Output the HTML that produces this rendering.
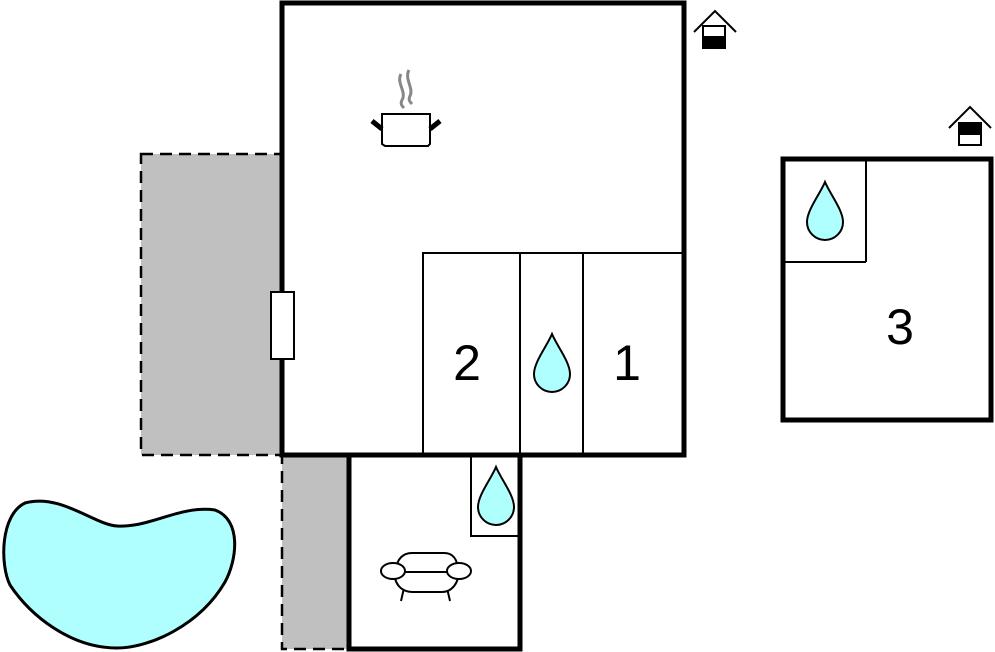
<!DOCTYPE html>
<html><head><style>html,body{margin:0;padding:0;background:#fff}svg{display:block}</style></head>
<body>
<svg width="995" height="652" viewBox="0 0 995 652" xmlns="http://www.w3.org/2000/svg">
<rect x="141" y="154" width="141" height="301" fill="#c0c0c0" stroke="#000" stroke-width="2.5" stroke-dasharray="12,7"/>
<rect x="282" y="455" width="67" height="194" fill="#c0c0c0" stroke="#000" stroke-width="2.5" stroke-dasharray="12,7"/>
<path d="M25,503 C60,493 95,525 117,526 C150,528 180,505 215,510 C242,520 237,560 225,582 C200,625 150,648 117,648 C70,648 30,615 10,585 C0,565 0,515 25,503 Z" fill="#b0ffff" stroke="#000" stroke-width="3"/>
<rect x="282" y="3" width="402" height="452" fill="#fff" stroke="#000" stroke-width="5"/>
<rect x="349" y="455" width="171" height="194" fill="#fff" stroke="#000" stroke-width="5"/>
<g stroke="#000" stroke-width="2" fill="none">
<rect x="423" y="253" width="261" height="202"/>
<line x1="520" y1="253" x2="520" y2="455"/>
<line x1="583" y1="253" x2="583" y2="455"/>
<rect x="471" y="455" width="49" height="81"/>
</g>
<rect x="271" y="292" width="23" height="67" fill="#fff" stroke="#000" stroke-width="2"/>
<rect x="783" y="159" width="208" height="261" fill="none" stroke="#000" stroke-width="5"/>
<line x1="783" y1="262" x2="866" y2="262" stroke="#000" stroke-width="2"/>
<line x1="866" y1="159" x2="866" y2="262" stroke="#000" stroke-width="2"/>
<g fill="#b0ffff" stroke="#000" stroke-width="2">
<path d="M825,182 C830,194 843,210 843,222 A18,18 0 0 1 807,222 C807,210 820,194 825,182 Z"/>
<path d="M552,334 C557,346 570,362 570,374 A18,18 0 0 1 534,374 C534,362 547,346 552,334 Z"/>
<path d="M496,467 C501,479 514,495 514,507 A18,18 0 0 1 478,507 C478,495 491,479 496,467 Z"/>
</g>
<g font-family="Liberation Sans, sans-serif" font-size="50" text-anchor="middle" fill="#000">
<text x="467" y="380">2</text>
<text x="627" y="380">1</text>
<text x="900" y="344">3</text>
</g>
<g stroke="#000" fill="none">
<path d="M382,114 L382,144 L385,146 L428,146 L430,144 L430,114 Z" fill="#fff" stroke-width="2"/>
<path d="M372,121 L382,129 M440,121 L430,129" stroke-width="5"/>
<path d="M401,74 C396,83 407,92 402,100 C400,104 402,106 404,108 M409,70 C404,79 414,88 410,96 C408,100 410,102 412,104" stroke="#888" stroke-width="3"/>
</g>
<g stroke="#000" stroke-width="2" fill="#fff">
<path d="M404,588 L401,601 M447,588 L450,601" fill="none"/>
<path d="M395,570 C393,582 400,592 413,592 L442,592 C452,592 460,582 458,570 Z"/>
<path d="M396,572 C396,558 404,553 412,553 L444,553 C452,553 458,558 458,572 Z"/>
<ellipse cx="393" cy="571" rx="12" ry="8"/>
<ellipse cx="459" cy="571" rx="12" ry="8"/>
</g>
<g stroke="#000" stroke-width="2" fill="none">
<path d="M694,32 L715,11 L736,32"/>
<rect x="703" y="26" width="22" height="22" fill="#fff"/>
<rect x="703" y="37" width="22" height="11" fill="#000"/>
<path d="M949,128 L970,107 L991,128"/>
<rect x="959" y="123" width="22" height="22" fill="#fff"/>
<rect x="959" y="123" width="22" height="11" fill="#000"/>
</g>
</svg>
</body></html>
